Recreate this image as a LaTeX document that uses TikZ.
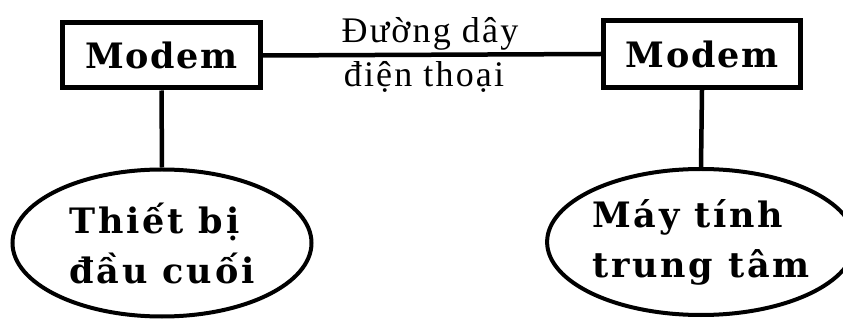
\documentclass[tikz,border=0pt]{standalone}
\usepackage{fontspec}
\setmainfont{Liberation Serif}
\newfontfamily\boldslab[LetterSpace=8]{DejaVu Serif Bold}
\newfontfamily\boxslab[LetterSpace=5]{DejaVu Serif Bold}
\newfontfamily\thinserif[LetterSpace=6]{Liberation Serif}
\usetikzlibrary{shapes.geometric}
\begin{document}
\begin{tikzpicture}[x=1pt,y=-1pt,
  modembox/.style={draw, line width=5pt, inner sep=0pt, minimum width=198pt, minimum height=65pt, font=\boxslab\fontsize{35}{40}\selectfont},
  endpoint/.style={draw, ellipse, line width=4pt, inner sep=0pt, align=left, font=\boldslab\fontsize{35}{50}\selectfont},
  wire/.style={line width=4.5pt},
  linelabel/.style={inner sep=0pt, anchor=base, font=\thinserif\fontsize{36}{40}\selectfont}]
\useasboundingbox (0,0) rectangle (843,320);
\node[modembox] (m1) at (161.5,55.5) {Modem};
\node[modembox, minimum width=197pt, minimum height=67pt] (m2) at (702,54) {Modem};
\node[endpoint, minimum width=299pt, minimum height=147pt] (t) at (162,243) {Thiết bị\\đầu cuối};
\node[endpoint, minimum width=290pt, minimum height=146pt] (c) at (701,242) {Máy tính\\trung tâm};
\draw[wire] (m1.east) -- (m2.west);
\draw[wire] (m1.south) -- (t.north);
\draw[wire] (m2.south) -- (c.north);
\node[linelabel] (l1) at (430,43) {Đường dây};
\node[linelabel] (l2) at (424,87) {điện thoại};
\end{tikzpicture}
\end{document}
